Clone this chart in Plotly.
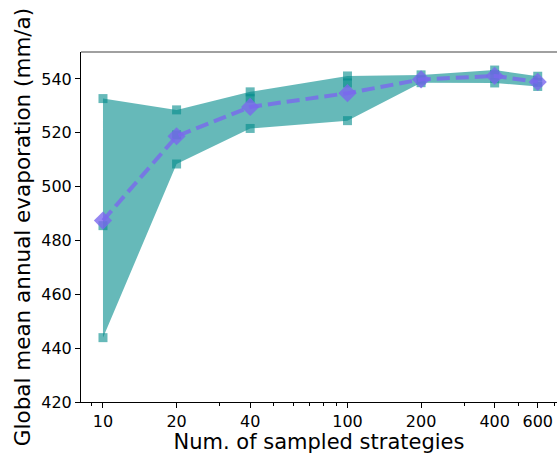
import plotly.graph_objects as go
import math

n_strategies = [10, 20, 40, 100, 200, 400, 600]
tick_labels = ["10", "20", "40", "100", "200", "400", "600"]
sample_a = [532.7, 528.5, 535.2, 541.1, 541.5, 543.3, 541.0]
sample_b = [485.5, 519.2, 532.8, 538.5, 539.6, 541.5, 538.7]
sample_c = [443.9, 508.4, 521.6, 524.5, 538.6, 538.5, 537.2]
mean_vals = [487.4, 518.7, 529.6, 534.7, 539.8, 541.1, 538.9]

upper = [max(a, b, c) for a, b, c in zip(sample_a, sample_b, sample_c)]
lower = [min(a, b, c) for a, b, c in zip(sample_a, sample_b, sample_c)]

teal_fill = "rgba(0,139,139,0.6)"
purple = "rgba(123,104,238,0.8)"

fig = go.Figure()
fig.add_trace(go.Scatter(x=n_strategies, y=lower, mode="lines", line=dict(width=0),
                         showlegend=False, hoverinfo="skip"))
fig.add_trace(go.Scatter(x=n_strategies, y=upper, mode="lines", line=dict(width=0),
                         fill="tonexty", fillcolor=teal_fill, showlegend=False))
for s in (sample_a, sample_b, sample_c):
    fig.add_trace(go.Scatter(x=n_strategies, y=s, mode="markers",
                             marker=dict(symbol="square", size=9, color=teal_fill,
                                         line=dict(width=0)),
                             showlegend=False))
fig.add_trace(go.Scatter(x=n_strategies, y=mean_vals, mode="lines+markers",
                         line=dict(color=purple, width=4, dash="13px,6px"),
                         marker=dict(symbol="diamond", size=14, color=purple,
                                     line=dict(width=0)),
                         showlegend=False))

font = "DejaVu Sans, sans-serif"
fig.update_layout(
    width=557, height=454,
    margin=dict(l=81, r=0, t=52, b=52),
    plot_bgcolor="white", paper_bgcolor="white",
    font=dict(family=font, color="black"),
    xaxis=dict(
        type="log", range=[math.log10(8.13), 2.857],
        tickvals=n_strategies, ticktext=tick_labels,
        ticks="outside", ticklen=5, tickwidth=1, tickcolor="black",
        tickfont=dict(size=16, family=font),
        showline=True, linecolor="black", linewidth=1, showgrid=False, zeroline=False,
        minor=dict(tickvals=[9, 30, 50, 60, 70, 80, 90, 300, 500, 700],
                   ticks="outside", ticklen=3, tickwidth=1, tickcolor="black", showgrid=False),
        title=dict(text="Num. of sampled strategies", font=dict(size=21, family=font), standoff=5),
    ),
    yaxis=dict(
        range=[420, 550], tickvals=[420, 440, 460, 480, 500, 520, 540],
        ticks="outside", ticklen=5, tickwidth=1, tickcolor="black",
        tickfont=dict(size=16, family=font),
        showline=True, linecolor="black", linewidth=1, showgrid=False, zeroline=False,
        title=dict(text="Global mean annual evaporation (mm/a)", font=dict(size=21.5, family=font), standoff=4),
    ),
    shapes=[dict(type="line", xref="paper", yref="paper", x0=0, x1=1, y0=1, y1=1,
                 line=dict(color="#808080", width=1.5))],
)

fig.write_html("out.html")
